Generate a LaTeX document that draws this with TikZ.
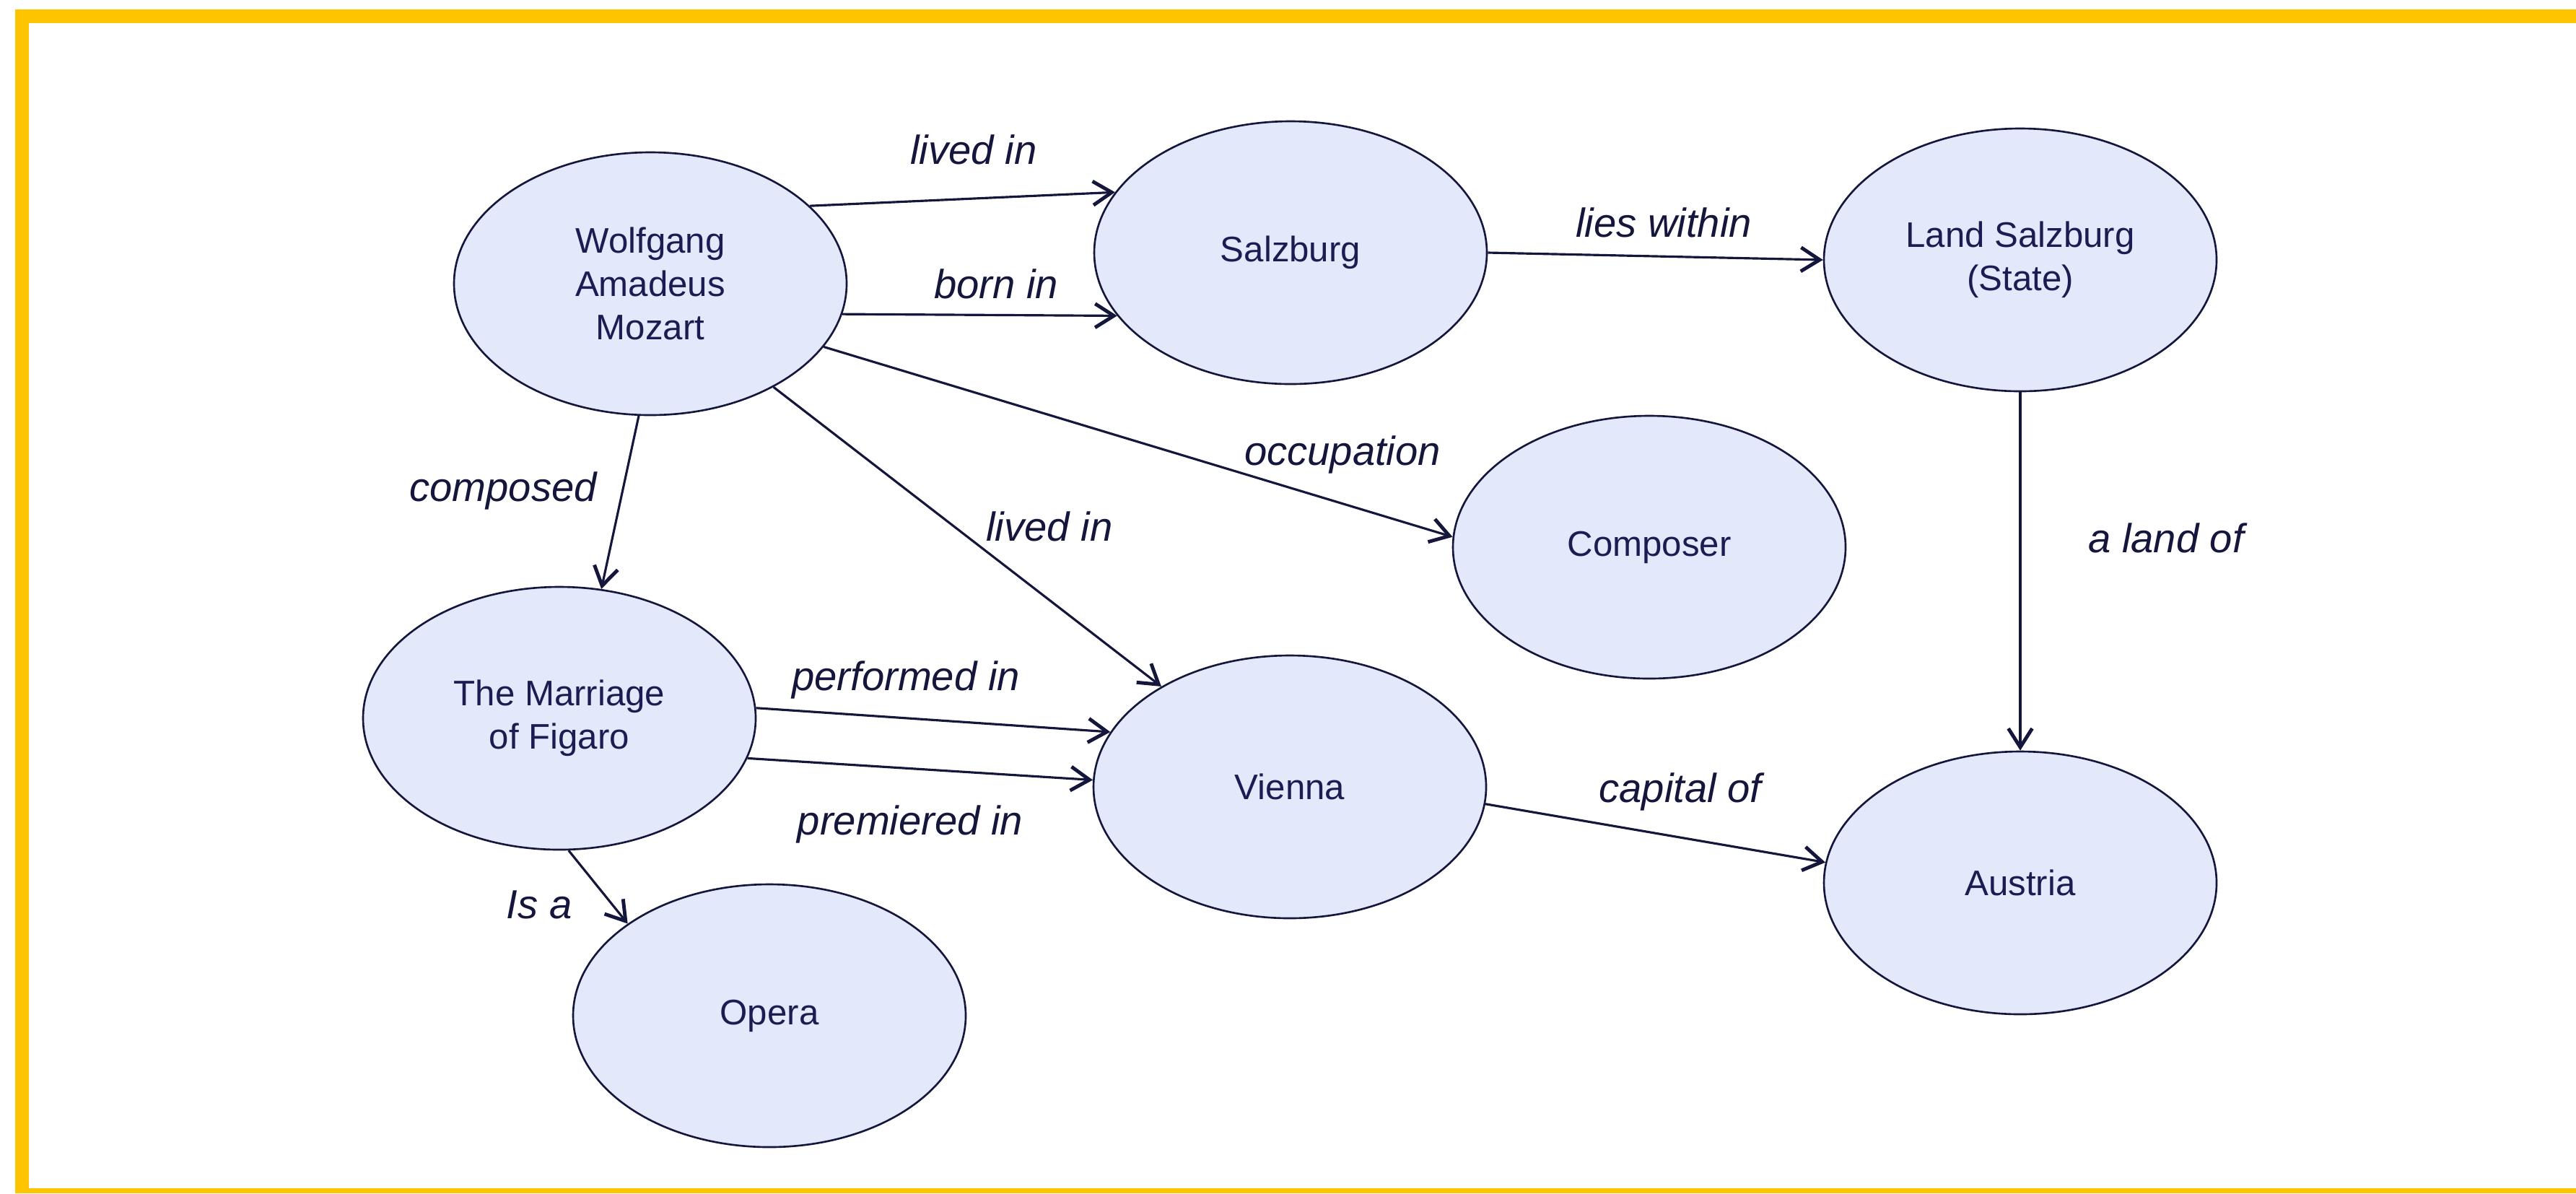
\documentclass[tikz,border=0pt]{standalone}
\usepackage{fontspec}
\setmainfont{Liberation Sans}
\usetikzlibrary{positioning,arrows.meta,shapes.geometric}
\definecolor{frameyellow}{RGB}{255,196,0}
\definecolor{nodefill}{RGB}{227,232,250}
\definecolor{inkblue}{RGB}{20,22,60}
\definecolor{textblue}{RGB}{28,28,82}

\begin{document}
\begin{tikzpicture}[
 ent/.style={ellipse,draw=inkblue,line width=.75pt,fill=nodefill,text=textblue,align=center,inner sep=0pt,minimum width=5.44cm,minimum height=3.64cm,font=\fontsize{14}{17}\selectfont},
 lab/.style={text=inkblue,inner sep=0pt,font=\fontsize{16}{19}\selectfont\itshape},
 a/.style={-{Straight Barb[length=2.6mm,width=3.3mm,line width=1.4pt]},line width=.9pt,draw=inkblue}]
\useasboundingbox (0,0) rectangle (35.69,-16.53);
\fill[frameyellow] (.21,-.13) rectangle (35.69,-.32);
\fill[frameyellow] (.21,-.13) rectangle (.40,-16.53);
\fill[frameyellow] (.21,-16.46) rectangle (35.69,-16.53);
\node[ent] (moz) at (9.01,-3.93) {Wolfgang\\Amadeus\\Mozart};
\node[ent] (salz) at (17.88,-3.50) {Salzburg};
\node[ent] (land) at (27.99,-3.60) {Land Salzburg\\(State)};
\node[ent] (comp) at (22.85,-7.58) {Composer};
\node[ent] (fig) at (7.75,-9.95) {The Marriage\\of Figaro};
\node[ent] (vie) at (17.87,-10.90) {Vienna};
\node[ent] (aus) at (27.99,-12.23) {Austria};
\node[ent] (op) at (10.66,-14.07) {Opera};
\node[lab] (tlived) at (13.49,-2.07) {lived in};
\node[lab] (tborn) at (13.80,-3.93) {born in};
\node[lab] (twithin) at (23.05,-3.08) {lies within};
\node[lab] (tjob) at (18.60,-6.30) {occupation};
\node[lab] (tvienna) at (14.54,-7.29) {lived in};
\node[lab] (tcomp) at (6.97,-6.80) {composed};
\node[lab] (tperf) at (12.55,-9.42) {performed in};
\node[lab] (tprem) at (12.61,-11.42) {premiered in};
\node[lab] (tisa) at (7.47,-12.53) {Is a};
\node[lab] (tcap) at (23.28,-10.97) {capital of};
\node[lab] (tland) at (30.01,-7.45) {a land of};
\draw[a] (moz.26) -- (salz.161);\draw[a] (moz.-9) -- (salz.200);
\draw[a] (salz.east) -- (land.west);\draw[a] (moz.-20) -- (comp.177);
\draw[a] (moz.-40) -- (vie.142);\draw[a] (moz.-95) -- (fig.72);
\draw[a] (fig.3) -- (vie.163);\draw[a] (fig.-12) -- (vie.178);
\draw[a] (fig.-86) -- (op.147);\draw[a] (vie.-5) -- (aus.174);
\draw[a] (land.south) -- (aus.north);
\end{tikzpicture}
\end{document}
